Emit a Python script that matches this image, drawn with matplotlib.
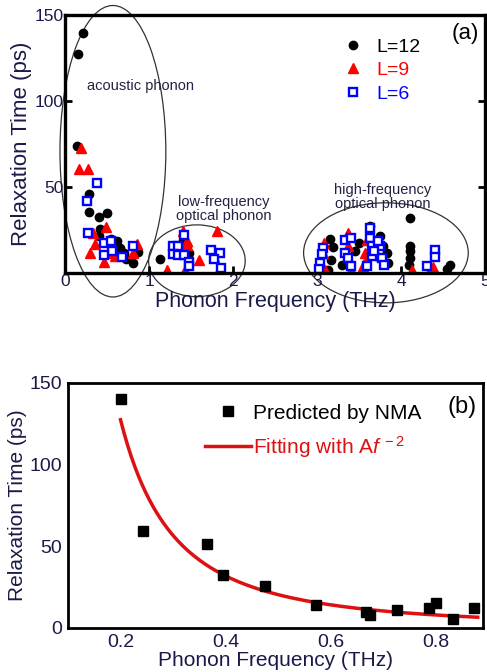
import matplotlib
matplotlib.use('Agg')
import matplotlib.pyplot as plt
from matplotlib.patches import Ellipse
import numpy as np

plt.rcParams['font.family'] = ['Liberation Sans', 'DejaVu Sans']
plt.rcParams['mathtext.fontset'] = 'custom'
plt.rcParams['mathtext.rm'] = 'Liberation Sans'
plt.rcParams['mathtext.it'] = 'Liberation Sans:italic'

tick_col = '#1a1a4a'

# panel (a) data: (frequency THz, relaxation time ps)
l12_f = [0.21, 0.15, 0.14, 0.28, 0.28, 0.40, 0.50, 0.42, 0.41, 0.55, 0.62, 0.65, 0.58, 0.73, 0.81, 0.87, 0.70,
         1.13, 1.48, 1.45, 1.40,
         3.19, 3.17, 3.13, 3.15, 3.30, 3.63, 3.75, 3.79, 3.83, 3.85, 3.70, 3.50, 3.45, 3.67,
         4.11, 4.11, 4.11, 4.11, 4.10, 4.58, 4.55]
l12_t = [139.5, 127.6, 74, 46, 35.7, 33, 35, 26, 22, 20, 19, 15, 12, 8.5, 6, 12.5, 12,
         8.5, 12, 16, 19,
         15.6, 8, 2.3, 20, 5, 27.4, 21.6, 15.8, 12, 6.4, 10, 18, 13, 12,
         32.4, 15.8, 13, 9, 5, 5.2, 3]

l9_f = [0.19, 0.17, 0.27, 0.49, 0.33, 0.30, 0.46, 0.60, 0.81, 0.86, 0.52, 0.36,
        1.40, 1.81, 1.45, 1.45, 1.60, 1.21, 1.43, 1.85, 1.77,
        3.08, 3.07, 3.10, 3.37, 3.37, 3.40, 3.59, 3.57, 3.55, 3.58, 4.13, 4.35, 4.38]
l9_t = [72.6, 60.5, 60.5, 26.8, 23.5, 12, 7, 10, 12, 17, 12, 17,
        24.5, 24.5, 16.8, 19, 7.7, 2, 2.3, 3.3, 9.4,
        17.7, 12, 2.3, 23.5, 15.8, 2.3, 19.7, 12, 4.2, 8, 2, 2.3, 4]

l6_f = [0.38, 0.26, 0.27, 0.46, 0.55, 0.56, 0.46, 0.68, 0.81,
        1.42, 1.28, 1.35, 1.28, 1.35, 1.42, 1.47, 1.47, 1.74, 1.85, 1.77, 1.86,
        3.07, 3.06, 3.04, 3.02, 3.33, 3.40, 3.33, 3.37, 3.40, 3.63, 3.63, 3.65, 3.66, 3.59,
        3.75, 3.77, 3.80, 3.72, 3.68, 4.40, 4.40, 4.31]
l6_t = [52.4, 42.2, 23.5, 17.7, 18.7, 13.3, 11, 9.4, 16.2,
        22.4, 16.2, 15.8, 11.6, 11, 11, 6.5, 4.2, 13.5, 12, 8.5, 3.3,
        14.8, 11.5, 6.2, 2.5, 19.7, 20.6, 12, 9, 4.2, 26.6, 20.6, 15.8, 10, 4.2,
        16.2, 9, 5.2, 19, 13, 13.9, 9.4, 4.2]

# panel (b) data
nma_f = [0.200, 0.242, 0.365, 0.395, 0.475, 0.573, 0.667, 0.674, 0.726, 0.787, 0.800, 0.832, 0.873]
nma_t = [140, 59.6, 51.4, 32.7, 26, 13.9, 9.6, 8.2, 11.2, 12.2, 15.3, 5.7, 12.2]
fit_A = 5.1

fig = plt.figure(figsize=(4.87, 6.72), dpi=100)

# ---------- panel (a) ----------
ax = fig.add_axes([0.1335, 0.594, 0.8625, 0.3837])
ax.plot(l12_f, l12_t, 'o', color='black', ms=6, label='L=12')
ax.plot(l9_f, l9_t, '^', color='red', ms=7.5, label='L=9')
ax.plot(l6_f, l6_t, 's', mfc='white', mec='blue', mew=1.7, ms=5.5, label='L=6')

ax.set_xlim(0, 5)
ax.set_ylim(0.5, 150)
ax.set_xticks([0, 1, 2, 3, 4, 5])
ax.set_yticks([50, 100, 150])
ax.tick_params(direction='in', right=True, length=5, width=2, labelsize=12.5,
               labelcolor=tick_col, pad=1)
for s in ax.spines.values():
    s.set_linewidth(2.4)
ax.set_xlabel('Phonon Frequency (THz)', fontsize=15.5, color=tick_col, labelpad=1)
ax.set_ylabel('Relaxation Time (ps)', fontsize=16, color=tick_col, labelpad=2)

for cx, cy, w, h in [(0.57, 71, 1.26, 169), (1.57, 7.5, 1.15, 41.6), (3.82, 12.1, 1.96, 58)]:
    e = Ellipse((cx, cy), w, h, fill=False, edgecolor='#333333', lw=0.9, clip_on=False)
    ax.add_patch(e)

ax.text(0.90, 109, 'acoustic phonon', fontsize=10.5, ha='center', va='center', color='#222244')
ax.text(1.89, 37.5, 'low-frequency\noptical phonon', fontsize=10.5, ha='center', va='center',
        color='#222244', linespacing=1.0)
ax.text(3.78, 44.5, 'high-frequency\noptical phonon', fontsize=10.5, ha='center', va='center',
        color='#222244', linespacing=1.0)
ax.text(0.985, 0.93, '(a)', transform=ax.transAxes, fontsize=16, ha='right', va='center')

leg = ax.legend(loc='upper left', bbox_to_anchor=(0.64, 0.94), frameon=False, fontsize=14,
                handlelength=1.2, handletextpad=0.6, labelspacing=0.3, borderaxespad=0)
for t, c in zip(leg.get_texts(), ['black', 'red', 'blue']):
    t.set_color(c)

# ---------- panel (b) ----------
bx = fig.add_axes([0.1396, 0.0655, 0.8522, 0.3646])
ff = np.linspace(0.2, 0.88, 200)
bx.plot(ff, fit_A / ff**2, color='#dd1111', lw=2.5, label=r'Fitting with A$\it{f}^{\,-2}$')
bx.plot(nma_f, nma_t, 's', color='black', ms=7, label='Predicted by NMA')
bx.set_xlim(0.1, 0.89)
bx.set_ylim(0, 150)
bx.set_xticks([0.2, 0.4, 0.6, 0.8])
bx.set_yticks([0, 50, 100, 150])
bx.tick_params(direction='in', length=0, labelsize=14, labelcolor=tick_col, pad=4)
for s in bx.spines.values():
    s.set_linewidth(2)
bx.set_xlabel('Phonon Frequency (THz)', fontsize=15, color=tick_col, labelpad=0)
bx.set_ylabel('Relaxation Time (ps)', fontsize=15, color=tick_col, labelpad=2)
bx.text(0.985, 0.9, '(b)', transform=bx.transAxes, fontsize=17, ha='right', va='center')

h, l = bx.get_legend_handles_labels()
leg2 = bx.legend([h[1], h[0]], [l[1], l[0]], loc='upper left', bbox_to_anchor=(0.31, 0.95),
                 frameon=False, fontsize=15, handlelength=2.2, handletextpad=0.1,
                 labelspacing=0.55, borderaxespad=0)
leg2.get_texts()[1].set_color('#dd1111')

fig.savefig('out.png', dpi=100)
